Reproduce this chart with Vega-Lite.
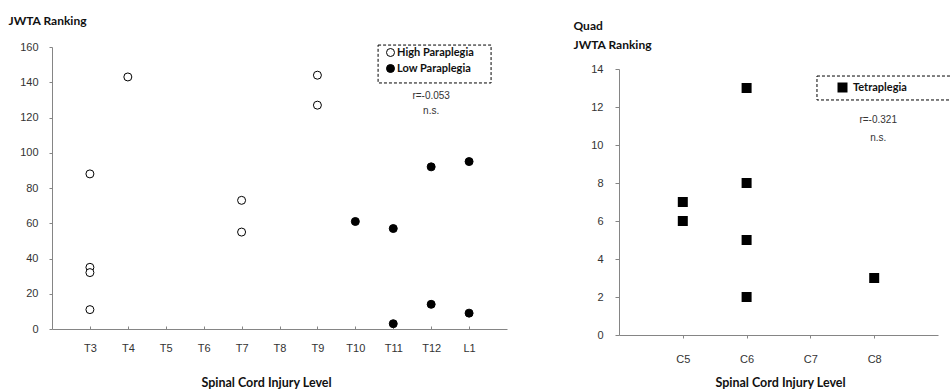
{
  "$schema": "https://vega.github.io/schema/vega-lite/v6.json",
  "padding": {"left": 8, "top": 14, "right": 0, "bottom": 0},
  "spacing": 66,
  "background": "white",
  "config": {
    "view": {"stroke": null},
    "axis": {
      "labelFont": "Liberation Sans", "labelFontSize": 11, "labelColor": "#333333", "labelOverlap": false,
      "titleFont": "Lato", "titleFontWeight": "bold", "titleFontSize": 12.5, "titleColor": "#111111",
      "domainColor": "#858585", "tickColor": "#858585", "grid": false
    },
    "legend": {
      "labelFont": "Lato", "labelFontWeight": "bold", "labelFontSize": 11, "labelColor": "#111111"
    }
  },
  "datasets": {
    "para": [
      {"level": "T3", "ranking": 88, "group": "High Paraplegia"},
      {"level": "T3", "ranking": 35, "group": "High Paraplegia"},
      {"level": "T3", "ranking": 32, "group": "High Paraplegia"},
      {"level": "T3", "ranking": 11, "group": "High Paraplegia"},
      {"level": "T4", "ranking": 143, "group": "High Paraplegia"},
      {"level": "T7", "ranking": 73, "group": "High Paraplegia"},
      {"level": "T7", "ranking": 55, "group": "High Paraplegia"},
      {"level": "T9", "ranking": 144, "group": "High Paraplegia"},
      {"level": "T9", "ranking": 127, "group": "High Paraplegia"},
      {"level": "T10", "ranking": 61, "group": "Low Paraplegia"},
      {"level": "T11", "ranking": 57, "group": "Low Paraplegia"},
      {"level": "T11", "ranking": 3, "group": "Low Paraplegia"},
      {"level": "T12", "ranking": 92, "group": "Low Paraplegia"},
      {"level": "T12", "ranking": 14, "group": "Low Paraplegia"},
      {"level": "L1", "ranking": 95, "group": "Low Paraplegia"},
      {"level": "L1", "ranking": 9, "group": "Low Paraplegia"}
    ],
    "tetra": [
      {"level": "C5", "ranking": 7, "group": "Tetraplegia"},
      {"level": "C5", "ranking": 6, "group": "Tetraplegia"},
      {"level": "C6", "ranking": 13, "group": "Tetraplegia"},
      {"level": "C6", "ranking": 8, "group": "Tetraplegia"},
      {"level": "C6", "ranking": 5, "group": "Tetraplegia"},
      {"level": "C6", "ranking": 2, "group": "Tetraplegia"},
      {"level": "C8", "ranking": 3, "group": "Tetraplegia"}
    ],
    "note": [{}]
  },
  "resolve": {"scale": {"fill": "independent", "x": "independent", "y": "independent"}, "legend": {"fill": "independent"}},
  "hconcat": [
    {
      "width": 455, "height": 282,
      "resolve": {"scale": {"x": "independent", "y": "independent"}},
      "layer": [
        {
          "data": {"name": "note"},
          "encoding": {
            "x": {"datum": 8.6, "type": "quantitative", "scale": {"domain": [0, 12], "nice": false, "zero": false}, "axis": null},
            "y": {"datum": 161.1, "type": "quantitative", "scale": {"domain": [0, 160], "nice": false}, "axis": null}
          },
          "layer": [
            {
              "mark": {"type": "rect", "fill": "transparent", "stroke": "black", "strokeWidth": 1, "strokeDash": [3, 2]},
              "encoding": {
                "x2": {"datum": 11.58},
                "y2": {"datum": 139.6}
              }
            },
            {
              "mark": {"type": "text", "font": "Liberation Sans", "fontSize": 10, "fill": "#333333"},
              "encoding": {
                "x": {"datum": 10, "type": "quantitative", "axis": null},
                "y": {"datum": 132, "type": "quantitative", "axis": null},
                "text": {"value": "r=-0.053"}
              }
            },
            {
              "mark": {"type": "text", "font": "Liberation Sans", "fontSize": 10, "fill": "#333333"},
              "encoding": {
                "x": {"datum": 10, "type": "quantitative", "axis": null},
                "y": {"datum": 123.5, "type": "quantitative", "axis": null},
                "text": {"value": "n.s."}
              }
            }
          ]
        },
        {
          "data": {"name": "para"},
          "mark": {"type": "point", "shape": "circle", "filled": true, "size": 64, "stroke": "black", "strokeWidth": 1, "opacity": 1},
          "encoding": {
            "x": {"field": "level", "type": "nominal",
              "scale": {"type": "point", "domain": ["T3","T4","T5","T6","T7","T8","T9","T10","T11","T12","L1"], "padding": 1},
              "axis": {"title": "Spinal Cord Injury Level", "labelAngle": 0, "tickSize": -3, "labelPadding": 22, "labelBaseline": "middle",
                "titleX": 214, "titleY": 53, "titleBaseline": "middle", "titleAlign": "center"}},
            "y": {"field": "ranking", "type": "quantitative",
              "scale": {"domain": [0, 160], "nice": false},
              "axis": {"title": "JWTA Ranking", "values": [0,20,40,60,80,100,120,140,160], "tickSize": 3, "labelPadding": 11, "labelOverlap": false,
                "titleFontSize": 12, "titleAngle": 0, "titleAlign": "left", "titleBaseline": "alphabetic", "titleX": -44, "titleY": -23}},
            "fill": {"field": "group", "type": "nominal",
              "scale": {"domain": ["High Paraplegia", "Low Paraplegia"], "range": ["white", "black"]},
              "legend": {"title": null, "orient": "none", "legendX": 325, "legendY": -5, "padding": 5,
                "symbolType": "circle", "symbolSize": 64, "symbolStrokeColor": "black", "symbolStrokeWidth": 1,
                "symbolOffset": 3, "labelOffset": 1, "rowPadding": 3}}
          }
        }
      ]
    },
    {
      "width": 319, "height": 288,
      "resolve": {"scale": {"x": "independent", "y": "independent"}},
      "layer": [
        {
          "data": {"name": "note"},
          "encoding": {
            "x": {"datum": 3.103, "type": "quantitative", "scale": {"domain": [0, 5], "nice": false, "zero": false}, "axis": null},
            "y": {"datum": 13.63, "type": "quantitative", "scale": {"domain": [0, 14], "nice": false, "range": [288, 22]}, "axis": null}
          },
          "layer": [
            {
              "mark": {"type": "rect", "fill": "transparent", "stroke": "black", "strokeWidth": 1, "strokeDash": [3, 2]},
              "encoding": {
                "x2": {"datum": 5.4},
                "y2": {"datum": 12.37}
              }
            },
            {
              "mark": {"type": "text", "font": "Liberation Sans", "fontSize": 10, "fill": "#333333", "dx": 4},
              "encoding": {
                "x": {"datum": 4, "type": "quantitative", "axis": null},
                "y": {"datum": 11.3, "type": "quantitative", "axis": null},
                "text": {"value": "r=-0.321"}
              }
            },
            {
              "mark": {"type": "text", "font": "Liberation Sans", "fontSize": 10, "fill": "#333333", "dx": 4},
              "encoding": {
                "x": {"datum": 4, "type": "quantitative", "axis": null},
                "y": {"datum": 10.35, "type": "quantitative", "axis": null},
                "text": {"value": "n.s."}
              }
            }
          ]
        },
        {
          "data": {"name": "tetra"},
          "mark": {"type": "point", "shape": "square", "filled": true, "size": 100, "opacity": 1},
          "encoding": {
            "x": {"field": "level", "type": "nominal",
              "scale": {"type": "point", "domain": ["C5","C6","C7","C8"], "padding": 1},
              "axis": {"title": "Spinal Cord Injury Level", "labelAngle": 0, "tickSize": 3, "labelPadding": 21, "labelBaseline": "middle",
                "titleX": 161, "titleY": 47, "titleBaseline": "middle", "titleAlign": "center"}},
            "y": {"field": "ranking", "type": "quantitative",
              "scale": {"domain": [0, 14], "nice": false, "range": [288, 22]},
              "axis": {"title": ["Quad", "JWTA Ranking"], "values": [0,2,4,6,8,10,12,14], "tickSize": 4, "labelPadding": 12,
                "titleFontSize": 12, "titleAngle": 0, "titleAlign": "left", "titleBaseline": "alphabetic", "titleX": -46, "titleY": -18, "titleLineHeight": 19}},
            "fill": {"field": "group", "type": "nominal",
              "scale": {"domain": ["Tetraplegia"], "range": ["black"]},
              "legend": {"title": null, "orient": "none", "legendX": 198, "legendY": 29, "padding": 6,
                "symbolType": "square", "symbolSize": 100, "symbolStrokeWidth": 0,
                "symbolOffset": 14, "labelOffset": 5}}
          }
        }
      ]
    }
  ]
}
